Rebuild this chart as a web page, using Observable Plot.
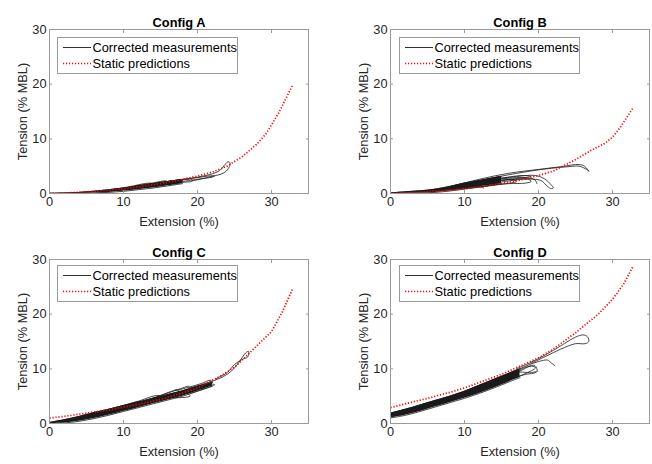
<!DOCTYPE html>
<html>
<head>
<meta charset="utf-8">
<script src="https://cdn.jsdelivr.net/npm/d3@7"></script>
<script src="https://cdn.jsdelivr.net/npm/@observablehq/plot@0.6"></script>
<style>
  html, body { margin: 0; padding: 0; background: #fff; }
  #root { position: relative; width: 652px; height: 464px; font-family: "Liberation Sans", Arial, sans-serif; }
  .panel { position: absolute; width: 326px; height: 232px; }
  .legend { position: absolute; }
</style>
</head>
<body>
<div id="root"></div>
<script>
// ---------- data ----------
const titles = ["Config A", "Config B", "Config C", "Config D"];
const xTicks = [0, 10, 20, 30];
const yTicks = [0, 10, 20, 30];
const legendLabels = ["Corrected measurements", "Static predictions"];

// static predictions
const predA_x = [0, 2, 5, 8, 10, 12, 15, 18, 20, 22, 24, 26, 28, 29.3, 31, 32.8];
const predA_y = [0.05, 0.1, 0.3, 0.6, 0.85, 1.2, 1.8, 2.6, 3.2, 3.9, 5.0, 6.7, 9.0, 11.0, 14.8, 19.7];
const predB_x = [0, 2, 5, 8, 10, 12, 15, 18, 20, 22, 25, 27, 29, 30, 31, 32.8];
const predB_y = [0.05, 0.1, 0.3, 0.6, 0.9, 1.2, 1.8, 2.6, 3.3, 4.1, 6.2, 7.8, 9.2, 10.3, 12.0, 15.7];
const predC_x = [0, 2, 5, 8, 10, 12, 15, 18, 20, 23, 25, 26.5, 28, 30, 31.5, 32.8];
const predC_y = [1.0, 1.3, 1.9, 2.5, 3.0, 3.5, 4.4, 5.6, 6.5, 8.6, 10.3, 12.2, 14.2, 16.8, 20.5, 24.5];
const predD_x = [0, 2, 5, 8, 10, 12, 15, 18, 20, 22, 25, 28, 30, 31.5, 32.8];
const predD_y = [2.9, 3.6, 4.6, 5.7, 6.5, 7.5, 9.0, 10.8, 12.0, 13.6, 16.6, 19.9, 22.7, 25.5, 28.8];

// dense measurement band (lower / upper envelope)
const bandA_x = [0, 2, 4, 6, 8, 10, 12, 14, 16, 18];
const bandA_lo = [0, 0, 0.02, 0.08, 0.2, 0.4, 0.7, 1.0, 1.4, 1.8];
const bandA_hi = [0.05, 0.1, 0.2, 0.4, 0.7, 1.0, 1.4, 1.8, 2.2, 2.5];
const bandB_x = [0, 2, 4, 6, 8, 10, 12, 14, 15];
const bandB_lo = [0, 0.05, 0.1, 0.2, 0.45, 0.8, 1.2, 1.6, 1.8];
const bandB_hi = [0.1, 0.3, 0.5, 0.8, 1.3, 1.9, 2.4, 2.9, 3.1];
const bandC_x = [0, 2, 4, 6, 8, 10, 12, 14, 16, 18, 20, 22];
const bandC_lo = [0, 0.1, 0.4, 0.9, 1.5, 2.2, 2.9, 3.6, 4.3, 5.0, 5.9, 6.8];
const bandC_hi = [0.2, 0.7, 1.3, 2.0, 2.6, 3.3, 3.9, 4.6, 5.3, 6.0, 6.8, 7.5];
const bandD_x = [0, 2, 4, 6, 8, 10, 12, 14, 16, 17.5];
const bandD_lo = [1.0, 1.5, 2.2, 3.0, 3.8, 4.6, 5.5, 6.5, 7.6, 8.4];
const bandD_hi = [1.9, 2.6, 3.4, 4.2, 5.0, 5.9, 7.0, 8.1, 9.2, 10.0];

// individual hysteresis loops / excursions
const loopsA = [
  [[9,0.8],[11,1.3],[12.8,1.8],[13.6,1.9],[14,1.7],[13,1.3],[11,0.9],[9,0.6]],
  [[11,1.2],[13.5,1.8],[15,2.2],[15.8,2.3],[16,2.1],[14.5,1.6],[12,1.1]],
  [[13,1.6],[15.5,2.1],[17,2.4],[17.8,2.5],[18,2.3],[16.5,1.9],[14,1.4]],
  [[14,1.7],[16.5,2.3],[18.5,2.6],[19.2,2.6],[19.3,2.3],[17.5,2.0],[15,1.6]],
  [[16,2.2],[18,2.6],[20,2.9],[21.5,3.2],[22.3,3.2],[22,3.0],[20,2.6],[18,2.2]],
  [[18,2.5],[20,3.0],[22,3.6],[23,4.2],[23.6,5.1],[24.1,5.8],[24.4,5.6],[24.3,4.9],[23.6,3.8],[21.5,3.0],[19.3,2.3]]
];
const loopsB = [
  [[8,1.2],[12,2.6],[16,3.7],[20,4.4],[23,4.9],[25.5,5.3],[26.2,5.0],[26.8,4.1]],
  [[10,1.6],[14,2.9],[18,3.9],[21,4.5],[24,4.9],[25.5,5.0],[26.5,4.4],[26.8,4.1]],
  [[9,1.3],[13,2.4],[17,3.1],[19.5,3.3],[20.8,2.7],[21.7,1.6],[22,1.0],[21.7,0.9],[21.2,1.3],[20.3,2.4],[18,2.6],[15,2.1]],
  [[9,1.2],[13,2.3],[16,2.8],[18,2.9],[19.5,2.5],[19.8,1.8]],
  [[10,1.4],[14,2.3],[17,2.6],[18.5,2.7],[19,2.2],[18.2,1.9],[16,1.8],[13,1.5]],
  [[8,1.0],[12,2.0],[15,2.4],[16.5,2.6],[17,2.2],[15,1.7],[12,1.2]],
  [[7,0.9],[10,1.5],[13,2.1],[14,2.2],[14.2,1.8],[12,1.2],[10,0.9]],
  [[11,1.8],[15,2.8],[18,3.3],[19,3.1],[18,2.9],[15,2.4]],
  [[10,1.0],[12,1.3],[12.6,1.0]]
];
const loopsC = [
  [[8,2.6],[10,3.3],[11.5,3.9],[12.3,4.0],[12.5,3.7],[11,3.0],[9,2.3]],
  [[10,3.2],[12.5,4.3],[14,5.0],[14.8,5.1],[15,4.7],[13.5,4.0],[11,3.0]],
  [[12,3.9],[14.5,4.9],[16.5,5.9],[17.3,6.2],[17.5,5.8],[16,5.0],[13.5,4.1]],
  [[14,4.6],[16.5,5.8],[18,6.5],[18.8,6.8],[19,6.3],[17.5,5.3],[15,4.5]],
  [[15,4.5],[17,5.3],[18.5,5.6],[19,5.0],[17,4.7]],
  [[17,6.0],[19,6.7],[20.5,7.3],[21.8,7.9],[22,7.5],[21,6.8],[19.5,6.3]],
  [[18,5.8],[20,6.5],[22,7.2],[22.3,7.1],[21,6.4],[19,5.5]],
  [[19,6.5],[21,7.3],[22.5,8.0],[23.5,8.6],[24.5,9.5],[25.5,11.0],[26.5,12.9],[26.9,13.2],[26.8,12.2],[26,11.7],[25,10.8],[24,9.3],[22.5,8.2]]
];
const loopsD = [
  [[14,7.6],[16,8.7],[17.5,9.6],[19,10.5],[19.6,10.2],[18.5,9.3],[16.5,8.2]],
  [[15,8.3],[17,9.5],[18.5,10.4],[19.5,10.6],[19.8,9.5],[18,8.9],[16,8.0]],
  [[16,8.8],[17.5,9.4],[18.8,9.3],[19.7,9.5]],
  [[17,10],[19,11.2],[21,12.6],[23,14.2],[25,15.8],[26,16.2],[26.6,15.9],[26.8,15.0],[26.3,14.6],[25,14.6],[23,13.6],[21,12.3],[19,11.0]],
  [[17,9.7],[19,10.9],[20.5,11.5],[21.2,11.6],[21.8,11.0],[22.2,10.6]],
  [[11,6.4],[12,6.2],[12.3,5.7]]
];

// ---------- build ----------
const configs = [
  {title: titles[0], px: predA_x, py: predA_y, bx: bandA_x, blo: bandA_lo, bhi: bandA_hi, loops: loopsA},
  {title: titles[1], px: predB_x, py: predB_y, bx: bandB_x, blo: bandB_lo, bhi: bandB_hi, loops: loopsB},
  {title: titles[2], px: predC_x, py: predC_y, bx: bandC_x, blo: bandC_lo, bhi: bandC_hi, loops: loopsC},
  {title: titles[3], px: predD_x, py: predD_y, bx: bandD_x, blo: bandD_lo, bhi: bandD_hi, loops: loopsD}
];
const layout = [
  {left: 0,   top: 0,   ml: 49, mr: 18, mt: 29, mb: 39, lx: 57, ly: 37},
  {left: 326, top: 0,   ml: 64, mr: 3,  mt: 29, mb: 39, lx: 73, ly: 37},
  {left: 0,   top: 232, ml: 49, mr: 18, mt: 27, mb: 41, lx: 57, ly: 33},
  {left: 326, top: 232, ml: 64, mr: 3,  mt: 27, mb: 41, lx: 73, ly: 33}
];

const root = document.getElementById("root");
const axisColor = "#9a9a9a";
const textColor = "#262626";
const FS = 12.8;
const FONT = '"Liberation Sans", Arial, sans-serif';
const DOTS = "1.2,1.8";

configs.forEach((c, i) => {
  const L = layout[i];
  const pred = c.px.map((x, k) => ({x, y: c.py[k]}));
  const band = c.bx.map((x, k) => ({x, lo: c.blo[k], hi: c.bhi[k]}));
  const loops = c.loops.flatMap((lp, j) => lp.map(([x, y]) => ({x, y, loop: j})));

  const chart = Plot.plot({
    width: 326, height: 232,
    marginLeft: L.ml, marginRight: L.mr, marginTop: L.mt, marginBottom: L.mb,
    style: {fontFamily: FONT, fontSize: FS + "px", color: textColor, background: "white", overflow: "visible"},
    x: {domain: [0, 35]},
    y: {domain: [0, 30]},
    marks: [
      Plot.areaY(band, {x: "x", y1: "lo", y2: "hi", fill: "#1a1a1a", curve: "catmull-rom"}),
      Plot.line(band, {x: "x", y: "lo", stroke: "#1a1a1a", strokeWidth: 0.8, curve: "catmull-rom"}),
      Plot.line(band, {x: "x", y: "hi", stroke: "#1a1a1a", strokeWidth: 0.8, curve: "catmull-rom"}),
      Plot.line(loops, {x: "x", y: "y", z: "loop", stroke: "#1a1a1a", strokeWidth: 0.8, curve: "catmull-rom"}),
      Plot.line(pred, {x: "x", y: "y", stroke: "#ff0000", strokeWidth: 1.7, strokeDasharray: DOTS, strokeLinecap: "butt"}),
      Plot.frame({stroke: axisColor, strokeWidth: 1}),
      Plot.axisX({anchor: "bottom", ticks: xTicks, tickSize: -3, stroke: axisColor, tickPadding: 6, fontSize: FS, color: textColor,
        label: "Extension (%)", labelAnchor: "center", labelArrow: "none", labelOffset: 32}),
      Plot.axisX({anchor: "top", ticks: xTicks, tickSize: -3, stroke: axisColor, text: null, label: null}),
      Plot.axisY({anchor: "left", ticks: yTicks, tickSize: -3, stroke: axisColor, tickPadding: 6, fontSize: FS, color: textColor,
        label: "Tension (% MBL)", labelAnchor: "center", labelArrow: "none", labelOffset: 32}),
      Plot.axisY({anchor: "right", ticks: yTicks, tickSize: -3, stroke: axisColor, text: null, label: null}),
      Plot.text([c.title], {frameAnchor: "top", dy: -12, text: d => d, fontWeight: "bold", fontSize: FS, fill: "#000"})
    ]
  });

  const panel = document.createElement("div");
  panel.className = "panel";
  panel.style.left = L.left + "px";
  panel.style.top = L.top + "px";
  panel.appendChild(chart);

  // legend
  const lg = d3.create("svg").attr("class", "legend")
    .attr("width", 181).attr("height", 37)
    .style("left", L.lx + "px").style("top", L.ly + "px");
  lg.append("rect").attr("x", 0.5).attr("y", 0.5).attr("width", 180).attr("height", 36)
    .attr("fill", "white").attr("stroke", axisColor).attr("stroke-width", 1);
  lg.append("line").attr("x1", 6).attr("x2", 34).attr("y1", 10.5).attr("y2", 10.5)
    .attr("stroke", "#1a1a1a").attr("stroke-width", 0.9);
  lg.append("line").attr("x1", 6).attr("x2", 34).attr("y1", 26.5).attr("y2", 26.5)
    .attr("stroke", "#ff0000").attr("stroke-width", 1.7).attr("stroke-dasharray", DOTS);
  legendLabels.forEach((t, k) => {
    lg.append("text").attr("x", 35.5).attr("y", 10.5 + 16 * k).attr("dy", "0.35em")
      .attr("font-size", FS).attr("fill", "#000")
      .attr("font-family", FONT).text(t);
  });
  panel.appendChild(lg.node());
  root.appendChild(panel);
});
</script>
</body>
</html>
